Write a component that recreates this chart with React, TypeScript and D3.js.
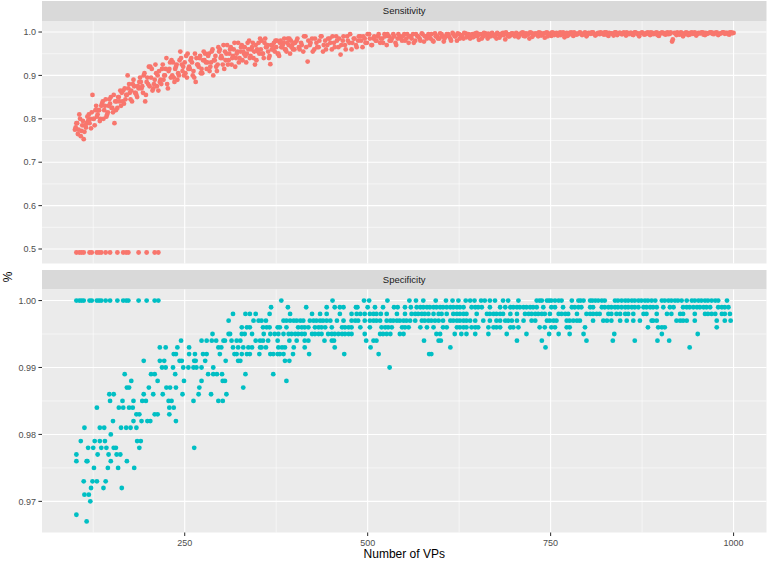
import React from "react";
import * as d3 from "d3";

const W = 767;
const H = 562;

// ---- data ----
// Sensitivity, read in three interleaved runs of VP counts (every 3 VPs)
const sensitivityVPsA = d3.range(100, 1001, 3);
const sensitivityValuesA = [
  0.775, 0.79, 0.81, 0.772, 0.753, 0.78, 0.795, 0.8, 0.855, 0.785,
  0.805, 0.82, 0.83, 0.8, 0.845, 0.815, 0.835, 0.825, 0.79, 0.84,
  0.85, 0.83, 0.865, 0.845, 0.9, 0.86, 0.84, 0.875, 0.855, 0.87,
  0.885, 0.86, 0.84, 0.895, 0.875, 0.915, 0.88, 0.905, 0.865, 0.89,
  0.925, 0.9, 0.88, 0.915, 0.935, 0.895, 0.92, 0.905, 0.955, 0.91,
  0.93, 0.895, 0.92, 0.94, 0.91, 0.885, 0.925, 0.945, 0.905, 0.935,
  0.915, 0.95, 0.93, 0.9, 0.945, 0.925, 0.96, 0.94, 0.915, 0.95,
  0.935, 0.965, 0.945, 0.92, 0.955, 0.94, 0.97, 0.95, 0.93, 0.96,
  0.945, 0.975, 0.925, 0.96, 0.95, 0.98, 0.94, 0.965, 0.955, 0.926,
  0.97, 0.955, 0.98, 0.945, 0.965, 0.975, 0.96, 0.985, 0.95, 0.97,
  0.96, 0.98, 0.965, 0.975, 0.955, 0.99, 0.932, 0.97, 0.985, 0.96,
  0.975, 0.965, 0.99, 0.955, 0.98, 0.97, 0.985, 0.96, 0.975, 0.99,
  0.965, 0.948, 0.98, 0.97, 0.99, 0.975, 0.96, 0.985, 0.97, 0.98,
  0.99, 0.965, 0.985, 0.975, 0.995, 0.97, 0.985, 0.98, 0.99, 0.975,
  0.985, 0.995, 0.97, 0.99, 0.98, 0.995, 0.975, 0.985, 0.99, 0.98,
  0.995, 0.985, 0.975, 0.99, 0.995, 0.98, 0.99, 0.985, 0.997, 0.978,
  0.99, 0.995, 0.985, 0.98, 0.997, 0.99, 0.985, 0.995, 0.978, 0.99,
  0.995, 0.985, 0.998, 0.99, 0.98, 0.995, 0.99, 0.985, 0.997, 0.992,
  0.985, 0.995, 0.99, 0.998, 0.982, 0.995, 0.99, 0.997, 0.985, 0.993,
  0.998, 0.99, 0.985, 0.995, 0.992, 0.998, 0.983, 0.995, 0.99, 0.997,
  0.993, 0.998, 0.988, 0.995, 0.999, 0.99, 0.996, 0.985, 0.998, 0.993,
  0.997, 0.99, 0.998, 0.994, 0.987, 0.999, 0.995, 0.991, 0.998, 0.996,
  0.992, 0.999, 0.996, 0.988, 0.998, 0.994, 0.999, 0.991, 0.997, 0.995,
  0.999, 0.993, 0.997, 0.99, 0.998, 0.996, 0.999, 0.992, 0.997, 0.995,
  0.998, 0.994, 0.999, 0.991, 0.997, 0.996, 0.999, 0.993, 0.998, 0.995,
  0.999, 0.992, 0.997, 0.998, 0.994, 0.999, 0.996, 0.99, 0.998, 0.997,
  0.995, 0.999, 0.993, 0.998, 0.996, 0.999, 0.991, 0.997, 0.998, 0.994,
  0.999, 0.996, 0.978, 0.998, 0.993, 0.997, 0.999, 0.99, 0.996, 0.998,
  0.994, 0.999, 0.996, 0.992, 0.998, 0.997, 0.999, 0.993, 0.996, 0.998,
  0.999, 0.995, 0.998, 0.993, 0.997, 0.999, 0.996, 0.998, 0.994, 0.999,
  0.998,
];
const sensitivityVPsB = d3.range(101, 1000, 3);
const sensitivityValuesB = [
  0.78, 0.765, 0.8, 0.785, 0.77, 0.79, 0.81, 0.778, 0.8, 0.82,
  0.81, 0.795, 0.835, 0.82, 0.805, 0.83, 0.85, 0.815, 0.84, 0.825,
  0.84, 0.86, 0.835, 0.855, 0.87, 0.845, 0.88, 0.86, 0.85, 0.885,
  0.87, 0.9, 0.855, 0.88, 0.92, 0.865, 0.89, 0.875, 0.91, 0.88,
  0.89, 0.915, 0.87, 0.93, 0.9, 0.885, 0.925, 0.9, 0.94, 0.92,
  0.905, 0.95, 0.915, 0.93, 0.895, 0.94, 0.92, 0.905, 0.935, 0.95,
  0.93, 0.91, 0.955, 0.935, 0.92, 0.965, 0.94, 0.925, 0.955, 0.97,
  0.95, 0.925, 0.96, 0.94, 0.975, 0.955, 0.935, 0.965, 0.95, 0.98,
  0.96, 0.94, 0.97, 0.955, 0.985, 0.95, 0.975, 0.965, 0.94, 0.97,
  0.96, 0.98, 0.95, 0.975, 0.965, 0.985, 0.955, 0.97, 0.98, 0.96,
  0.975, 0.985, 0.96, 0.97, 0.99, 0.965, 0.98, 0.975, 0.955, 0.985,
  0.965, 0.98, 0.99, 0.97, 0.96, 0.985, 0.975, 0.99, 0.965, 0.98,
  0.985, 0.97, 0.99, 0.96, 0.98, 0.995, 0.975, 0.985, 0.965, 0.99,
  0.98, 0.99, 0.975, 0.995, 0.985, 0.97, 0.99, 0.98, 0.995, 0.985,
  0.975, 0.99, 0.995, 0.98, 0.985, 0.99, 0.97, 0.995, 0.985, 0.99,
  0.98, 0.995, 0.99, 0.985, 0.975, 0.995, 0.99, 0.98, 0.995, 0.99,
  0.985, 0.99, 0.995, 0.978, 0.99, 0.985, 0.997, 0.99, 0.985, 0.995,
  0.99, 0.98, 0.995, 0.99, 0.997, 0.985, 0.993, 0.998, 0.988, 0.995,
  0.993, 0.988, 0.997, 0.99, 0.995, 0.985, 0.998, 0.992, 0.996, 0.99,
  0.995, 0.992, 0.998, 0.987, 0.996, 0.993, 0.999, 0.99, 0.995, 0.997,
  0.99, 0.996, 0.993, 0.998, 0.991, 0.997, 0.994, 0.999, 0.989, 0.996,
  0.995, 0.999, 0.992, 0.997, 0.998, 0.99, 0.996, 0.999, 0.993, 0.998,
  0.996, 0.993, 0.999, 0.997, 0.991, 0.998, 0.995, 0.999, 0.994, 0.997,
  0.998, 0.995, 0.999, 0.993, 0.997, 0.999, 0.996, 0.994, 0.998, 0.999,
  0.996, 0.999, 0.994, 0.998, 0.997, 0.992, 0.999, 0.996, 0.998, 0.995,
  0.997, 0.999, 0.995, 0.998, 0.993, 0.999, 0.997, 0.996, 0.999, 0.994,
  0.998, 0.996, 0.999, 0.995, 0.998, 0.993, 0.997, 0.999, 0.996, 0.998,
  0.995, 0.999, 0.983, 0.997, 0.999, 0.994, 0.998, 0.996, 0.999, 0.993,
  0.998, 0.996, 0.999, 0.995, 0.997, 0.999, 0.994, 0.998, 0.997, 0.999,
  0.996, 0.998, 0.999, 0.995, 0.997, 0.999, 0.998, 0.996, 0.999, 0.997,
];
const sensitivityVPsC = d3.range(102, 400, 3);
const sensitivityValuesC = [
  0.79, 0.775, 0.76, 0.795, 0.785, 0.805, 0.79, 0.815, 0.8, 0.83,
  0.82, 0.8, 0.84, 0.83, 0.81, 0.845, 0.825, 0.855, 0.82, 0.85,
  0.865, 0.84, 0.87, 0.855, 0.88, 0.865, 0.89, 0.86, 0.875, 0.895,
  0.875, 0.905, 0.885, 0.92, 0.895, 0.87, 0.925, 0.9, 0.885, 0.915,
  0.9, 0.94, 0.91, 0.895, 0.93, 0.915, 0.89, 0.935, 0.925, 0.9,
  0.945, 0.915, 0.935, 0.9, 0.95, 0.925, 0.94, 0.915, 0.955, 0.93,
  0.945, 0.92, 0.96, 0.935, 0.91, 0.955, 0.945, 0.97, 0.935, 0.925,
  0.96, 0.94, 0.975, 0.95, 0.93, 0.965, 0.955, 0.945, 0.975, 0.94,
  0.965, 0.955, 0.935, 0.975, 0.96, 0.95, 0.985, 0.97, 0.945, 0.96,
  0.975, 0.965, 0.95, 0.98, 0.97, 0.96, 0.975, 0.985, 0.965, 0.975,
];

const failedVPs = [102, 106, 109, 112, 120, 123, 130, 133, 136, 142, 148, 158, 166, 170, 173, 187, 198, 209, 214];
const failedSensitivity = 0.492;
const failedSpecificity = 1.0;

const specificityLevels = [
  1.0, 0.999, 0.998, 0.997, 0.996, 0.995, 0.994, 0.993, 0.992, 0.991, 0.99,
  0.989, 0.988, 0.987, 0.986, 0.985, 0.984, 0.983, 0.982, 0.981, 0.98,
  0.979, 0.978, 0.977, 0.976, 0.975, 0.973, 0.972, 0.971, 0.97, 0.968, 0.967,
];
const specificityVPs: number[][] = [
  [382, 452, 495, 502, 527, 557, 566, 576, 593, 607, 616, 624, 634, 640, 646, 655, 660, 667, 674, 685, 692, 706, 731, 735, 738, 745, 748, 751, 756, 761, 765, 779, 788, 791, 795, 804, 807, 811, 815, 820, 824, 838, 842, 847, 852, 856, 861, 865, 870, 874, 879, 883, 888, 893, 902, 906, 911, 915, 920, 924, 929, 936, 943, 947, 952, 956, 961, 965, 970, 975, 979, 991],
  [368, 391, 416, 444, 455, 462, 467, 484, 486, 500, 510, 521, 536, 541, 551, 559, 567, 572, 576, 581, 585, 590, 594, 599, 603, 608, 613, 617, 622, 626, 631, 642, 647, 651, 656, 667, 681, 688, 695, 699, 704, 708, 713, 717, 722, 726, 731, 740, 751, 756, 767, 779, 783, 788, 792, 804, 808, 820, 824, 829, 833, 838, 842, 847, 852, 856, 861, 865, 870, 877, 881, 886, 890, 895, 904, 913, 918, 931, 936, 940, 945, 950, 954, 959, 963, 968, 979, 984, 988, 993],
  [316, 333, 339, 347, 366, 394, 424, 435, 444, 462, 478, 485, 490, 496, 503, 508, 512, 518, 526, 540, 551, 560, 565, 569, 574, 578, 583, 590, 597, 601, 608, 617, 622, 626, 631, 635, 649, 663, 667, 672, 676, 681, 685, 695, 704, 715, 720, 724, 729, 733, 738, 742, 749, 761, 765, 770, 774, 786, 799, 804, 808, 813, 817, 829, 833, 840, 845, 852, 856, 863, 877, 881, 895, 909, 915, 927, 931, 947, 961, 965, 970, 975, 984, 988, 995],
  [310, 344, 351, 355, 361, 385, 389, 394, 399, 403, 408, 412, 421, 426, 430, 435, 439, 444, 449, 458, 467, 478, 483, 487, 496, 503, 508, 512, 517, 526, 531, 535, 540, 544, 549, 553, 558, 565, 574, 578, 583, 587, 592, 597, 603, 613, 617, 622, 626, 631, 635, 640, 647, 658, 667, 676, 681, 688, 692, 697, 704, 713, 724, 729, 745, 749, 754, 758, 772, 776, 781, 786, 790, 808, 822, 827, 833, 845, 854, 863, 872, 888, 890, 895, 922, 927, 931, 936, 947, 977, 988, 996],
  [328, 335, 339, 357, 362, 366, 377, 380, 389, 405, 410, 414, 419, 428, 433, 437, 442, 451, 465, 469, 474, 478, 490, 503, 519, 524, 528, 533, 547, 551, 556, 572, 581, 590, 603, 608, 622, 626, 631, 635, 642, 647, 651, 665, 672, 676, 681, 695, 699, 706, 735, 742, 751, 756, 772, 776, 797, 883, 897, 902, 906, 977],
  [288, 310, 312, 328, 332, 342, 358, 367, 373, 378, 385, 392, 396, 401, 405, 410, 414, 424, 428, 433, 437, 446, 451, 455, 460, 465, 469, 474, 478, 496, 517, 521, 526, 531, 544, 549, 594, 599, 619, 628, 635, 647, 665, 690, 717, 748, 761, 776, 795, 837, 902, 951],
  [245, 273, 280, 287, 293, 303, 305, 314, 321, 326, 347, 353, 357, 364, 377, 393, 403, 414, 419, 441, 451, 454, 498, 508, 512, 577, 597, 600, 704, 738, 799, 835, 865, 896, 912],
  [216, 224, 240, 256, 296, 300, 316, 323, 330, 337, 342, 353, 355, 361, 378, 383, 387, 399, 414, 455, 504, 613, 743, 940],
  [235, 238, 256, 264, 275, 280, 298, 318, 321, 328, 335, 339, 352, 367, 371, 377, 380, 385, 398, 420, 468, 515, 584, 587],
  [194, 216, 222, 243, 246, 263, 265, 278, 306, 323, 326, 387, 393],
  [219, 224, 234, 248, 255, 262, 266, 273, 289, 530],
  [168, 204, 209, 237, 282, 289, 294, 301, 333, 371],
  [177, 213, 249, 273, 302, 305, 389],
  [171, 174, 201, 225, 230, 238, 270, 330],
  [147, 153, 194, 207, 220, 247, 269, 286, 307],
  [148, 165, 180, 192, 197, 228, 232, 262, 296, 302],
  [130, 160, 166, 174, 179, 229, 235],
  [184, 188, 209, 213, 229],
  [152, 180, 191, 199, 203, 238],
  [113, 134, 140, 163, 170, 176, 184],
  [149],
  [108, 127, 134, 141, 185, 190],
  [118, 125, 136, 143, 153, 156, 188, 263],
  [102, 131, 146, 157, 162],
  [102, 116, 117, 149, 171],
  [126, 145, 159, 181],
  [112, 124, 130, 142],
  [122, 139, 164],
  [113, 119],
  [121],
  [102],
  [116],
];

const xTicks = [250, 500, 750, 1000];
const xMinor = [125, 375, 625, 875];
const sensTicks = [0.5, 0.6, 0.7, 0.8, 0.9, 1.0];
const sensMinor = [0.55, 0.65, 0.75, 0.85, 0.95];
const specTicks = [0.97, 0.98, 0.99, 1.0];
const specMinor = [0.975, 0.985, 0.995];

const SENS_COLOR = "#F8766D";
const SPEC_COLOR = "#00BFC4";
const FONT = "'Liberation Sans', Arial, Helvetica, sans-serif";

function expand(lo: number, hi: number): [number, number] {
  const r = hi - lo;
  return [lo - r * 0.05, hi + r * 0.05];
}

const PL = 42;
const PR = 766.5;

const x = d3.scaleLinear().domain(expand(100, 1000)).range([PL, PR]);

type Pt = { vp: number; v: number };

const sensPoints: Pt[] = [
  ...sensitivityVPsA.map((vp, i) => ({ vp, v: sensitivityValuesA[i] })),
  ...sensitivityVPsB.map((vp, i) => ({ vp, v: sensitivityValuesB[i] })),
  ...sensitivityVPsC.map((vp, i) => ({ vp, v: sensitivityValuesC[i] })),
  ...failedVPs.map((vp) => ({ vp, v: failedSensitivity })),
].filter((p) => p.v !== undefined);
const specPoints: Pt[] = [
  ...specificityLevels.flatMap((lvl, i) => specificityVPs[i].map((vp) => ({ vp, v: lvl }))),
  ...failedVPs.map((vp) => ({ vp, v: failedSpecificity })),
];

function Panel(props: {
  label: string;
  stripTop: number;
  top: number;
  bottom: number;
  domain: [number, number];
  ticks: number[];
  minor: number[];
  fmt: (v: number) => string;
  points: Pt[];
  color: string;
  showX: boolean;
}) {
  const { label, stripTop, top, bottom, domain, ticks, minor, fmt, points, color, showX } = props;
  const y = d3.scaleLinear().domain(domain).range([bottom, top]);
  return (
    <g>
      <rect x={PL} y={stripTop} width={PR - PL} height={top - stripTop} fill="#D9D9D9" />
      <text
        x={(PL + PR) / 2}
        y={(stripTop + top) / 2 + 3.3}
        textAnchor="middle"
        fontSize={9.5}
        fill="#1A1A1A"
        fontFamily={FONT}
      >
        {label}
      </text>
      <rect x={PL} y={top} width={PR - PL} height={bottom - top} fill="#EBEBEB" />
      {minor.map((t) => (
        <line key={"ym" + t} x1={PL} x2={PR} y1={y(t)} y2={y(t)} stroke="#FFFFFF" strokeWidth={0.55} />
      ))}
      {xMinor.map((t) => (
        <line key={"xm" + t} x1={x(t)} x2={x(t)} y1={top} y2={bottom} stroke="#FFFFFF" strokeWidth={0.55} />
      ))}
      {ticks.map((t) => (
        <line key={"yM" + t} x1={PL} x2={PR} y1={y(t)} y2={y(t)} stroke="#FFFFFF" strokeWidth={1.1} />
      ))}
      {xTicks.map((t) => (
        <line key={"xM" + t} x1={x(t)} x2={x(t)} y1={top} y2={bottom} stroke="#FFFFFF" strokeWidth={1.1} />
      ))}
      <g>
        {points.map((p, i) => (
          <circle key={i} cx={x(p.vp)} cy={y(p.v)} r={2.4} fill={color} />
        ))}
      </g>
      {ticks.map((t) => (
        <g key={"yt" + t}>
          <line x1={PL - 3.6} x2={PL} y1={y(t)} y2={y(t)} stroke="#333333" strokeWidth={1.05} />
          <text
            x={PL - 6}
            y={y(t) + 3.2}
            textAnchor="end"
            fontSize={9}
            fill="#4D4D4D"
            fontFamily={FONT}
          >
            {fmt(t)}
          </text>
        </g>
      ))}
      {showX &&
        xTicks.map((t) => (
          <g key={"xt" + t}>
            <line x1={x(t)} x2={x(t)} y1={bottom} y2={bottom + 3.6} stroke="#333333" strokeWidth={1.05} />
            <text
              x={x(t)}
              y={bottom + 13}
              textAnchor="middle"
              fontSize={9}
              fill="#4D4D4D"
              fontFamily={FONT}
            >
              {t}
            </text>
          </g>
        ))}
    </g>
  );
}

export default function App() {
  const sensDomain = expand(failedSensitivity, 1.0);
  const specDomain = expand(d3.min(specificityLevels) as number, 1.0);
  return (
    <div style={{ position: "absolute", left: 0, top: 0 }}>
      <svg width={W} height={H} style={{ display: "block", background: "#FFFFFF" }}>
        <rect x={0} y={0} width={W} height={H} fill="#FFFFFF" />
        <Panel
          label="Sensitivity"
          stripTop={1}
          top={21}
          bottom={263.5}
          domain={sensDomain}
          ticks={sensTicks}
          minor={sensMinor}
          fmt={d3.format(".1f")}
          points={sensPoints}
          color={SENS_COLOR}
          showX={false}
        />
        <Panel
          label="Specificity"
          stripTop={270}
          top={289.5}
          bottom={532.5}
          domain={specDomain}
          ticks={specTicks}
          minor={specMinor}
          fmt={d3.format(".2f")}
          points={specPoints}
          color={SPEC_COLOR}
          showX={true}
        />
        <text
          x={(PL + PR) / 2}
          y={558}
          textAnchor="middle"
          fontSize={12}
          fill="#000000"
          fontFamily={FONT}
        >
          Number of VPs
        </text>
        <text
          transform={`translate(${12},${277}) rotate(-90)`}
          textAnchor="middle"
          fontSize={12}
          fill="#000000"
          fontFamily={FONT}
        >
          %
        </text>
      </svg>
    </div>
  );
}
